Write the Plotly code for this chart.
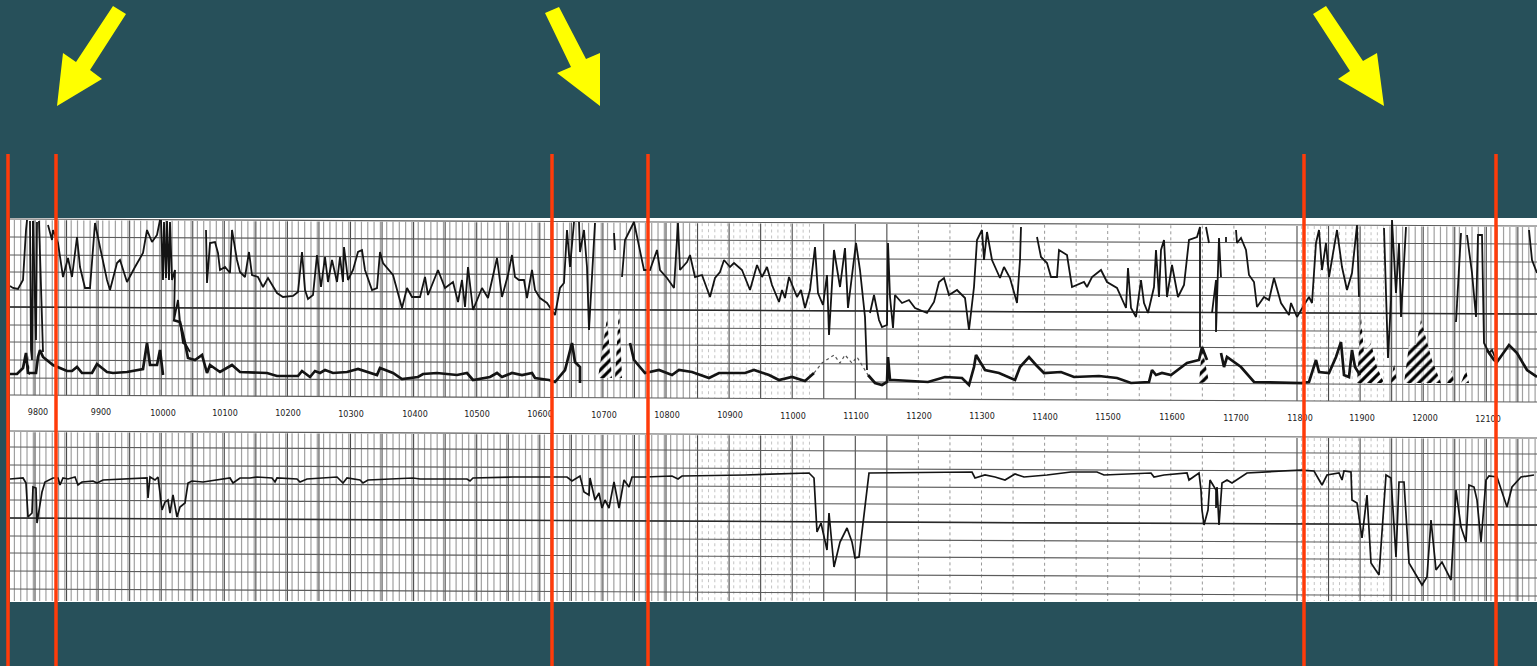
import plotly.graph_objects as go

TEAL = "#27505A"
RED = "#FF3B0A"
YELLOW = "#FFFF00"
INK = "#141414"
TILT = 7.0 / 1537

# ---- curve read-outs: position along the strip / height on the page (None = pen lifts)
deep_x = [10,13,18,23,26,27,None,30,31,32,33,None,33,35,36,37,None,39,41,43,None,
 48,52,53,58,63,68,72,77,80,85,90,95,100,107,110,117,120,127,135,143,147,152,157,160,None,
 161,163,164,166,167,169,170,172,172,175,174,178,180,183,186,190,None,
 206,207,210,215,218,220,225,230,232,237,240,245,249,252,258,263,268,277,283,293,298,302,305,308,313,317,321,325,328,332,337,340,343,344,348,353,358,362,365,372,377,380,383,393,402,407,412,420,425,428,438,445,453,458,462,465,468,473,482,488,497,502,508,
 512,515,519,524,527,532,535,540,547,555,560,564,567,570,574,None,
 579,580,584,587,589,592,595,None,614,615,None,
 622,625,634,640,644,650,657,660,667,674,678,680,687,690,695,702,710,715,720,724,730,734,742,750,757,762,767,772,779,782,785,789,797,801,805,810,815,818,823,827,829,834,840,845,848,856,860,865,867,None,
 870,874,879,882,887,888,890,893,895,902,909,915,927,934,939,944,949,957,965,969,974,977,982,984,987,992,1000,1004,1010,1017,1020,1021,None,
 1037,1041,1047,1051,1057,1059,1067,1072,1084,1087,1092,1101,1107,1117,1126,1128,1131,1136,1141,1144,1148,1154,1156,1159,1161,1164,1167,1172,1178,1184,1189,1197,1200,1200,None,
 1206,1209,None,1212,1216,1216,1219,1221,None,1226,1226,None,
 1236,1237,1241,1246,1249,1254,1257,1264,1269,1274,1281,1289,1291,1297,1304,1309,1312,1316,1319,1322,1326,1329,1337,1342,1347,1352,1357,1359,None,
 1384,1386,1388,1391,1392,1396,1399,1401,1406,None,1456,1461,None,
 1467,1472,1476,1478,1482,1484,1489,1492,1496,None,1529,1532,1537]
deep_y = [286,288,289,280,230,220,None,221,350,360,221,None,221,320,340,222,None,221,280,352,None,
 225,240,230,243,277,258,277,237,267,288,288,223,247,280,290,263,260,282,267,253,230,242,235,220,None,
 220,280,222,278,221,280,222,278,280,270,320,300,322,343,345,352,None,
 230,283,243,242,253,270,267,273,230,260,272,277,252,275,277,287,278,293,297,296,292,252,290,299,295,255,287,257,282,260,282,257,282,247,280,270,252,250,270,290,288,252,263,275,308,288,297,297,277,295,270,288,282,302,280,307,267,310,288,298,258,297,275,
 255,277,280,280,298,270,290,298,303,315,288,283,230,267,222,None,
 222,252,230,267,330,277,223,None,233,250,None,
 277,240,222,253,270,270,250,270,278,288,223,270,262,255,277,275,297,278,272,260,267,263,270,290,265,277,267,285,302,290,298,277,297,290,308,290,247,293,305,275,335,250,287,248,308,243,270,317,370,None,
 313,295,320,327,325,243,297,328,295,303,300,308,313,302,282,278,295,290,298,330,287,240,230,260,232,260,278,267,278,303,260,227,None,
 237,257,263,277,277,250,255,287,282,287,277,270,282,288,308,268,308,317,280,303,313,287,250,297,250,240,297,265,297,285,240,237,227,347,None,
 227,243,None,313,280,332,238,277,None,237,242,None,
 230,243,238,250,275,282,307,297,300,278,303,315,303,317,305,297,303,243,230,270,243,277,230,267,290,273,225,297,None,
 228,293,358,300,220,293,243,317,227,None,322,233,None,
 235,273,317,235,235,343,353,350,360,None,230,260,273]

shallow_x = [10,17,23,26,28,32,36,38,40,43,53,60,67,72,77,82,92,97,107,113,127,143,147,150,157,160,163,None,
 173,180,185,188,195,202,207,210,220,232,240,267,277,298,302,310,315,320,325,333,347,358,377,380,393,402,418,423,437,457,467,473,490,497,502,
 512,522,532,535,549,555,565,572,575,580,580,None,
 630,634,645,659,672,679,692,709,719,745,754,769,779,792,805,814,None,
 868,875,882,887,888,890,894,928,945,962,969,974,976,985,999,1015,1020,
 1024,1029,1036,1044,1061,1074,1099,1117,1131,1149,1152,1156,1162,1171,1187,1199,1202,1207,None,
 1221,1224,1227,1241,1254,1301,1309,1316,1319,1329,1336,1341,1344,1349,1352,1355,1360,None,
 1487,1494,1497,1509,1517,1527,1537]
shallow_y = [374,374,368,353,373,373,373,357,350,357,365,368,371,371,367,373,373,364,372,373,372,369,343,365,365,350,375,None,
 320,322,343,358,360,355,373,365,372,365,372,373,376,376,371,377,371,373,370,373,372,369,375,368,373,379,377,374,373,375,373,380,377,373,377,
 373,375,373,378,380,382,370,343,362,367,383,None,
 343,360,373,370,375,370,372,378,373,373,370,375,380,377,381,373,None,
 375,383,385,382,357,380,380,382,377,378,385,367,355,370,373,380,367,
 363,357,365,373,372,377,376,378,383,382,370,375,373,375,363,360,347,360,None,
 353,367,357,367,382,383,382,360,372,373,357,342,375,377,350,367,375,None,
 350,360,362,345,353,370,377]

dotted_x = [814,822,834,840,845,852,857,865,868]
dotted_y = [373,363,355,363,355,363,357,370,375]

lower_x = [10,23,26,28,32,33,36,37,42,45,53,58,60,63,68,75,78,82,93,97,103,143,147,148,150,155,158,160,162,165,168,170,173,177,180,185,188,192,203,230,233,240,250,257,272,275,277,297,300,307,337,343,347,360,363,368,413,420,467,470,473,
 512,567,572,580,584,589,590,595,599,602,605,609,614,619,624,629,632,645,672,678,682,745,809,814,817,821,827,829,834,840,847,852,855,859,869,972,975,985,995,1005,1015,
 1024,1047,1071,1097,1104,1151,1154,1164,1187,1189,1199,1201,1202,1204,1208,1210,1216,1216,1217,1219,1222,1227,1232,1247,1301,1314,1322,1327,1339,1342,1344,1351,1352,1357,1362,1367,1371,1379,1386,1391,1396,1399,1404,1409,1422,1427,1431,1436,1442,1451,1456,1461,1466,1469,1474,1477,1481,1486,1489,1497,1507,1512,1521,1534]
lower_y = [479,478,483,517,513,487,488,523,492,482,478,478,485,478,479,477,485,482,481,483,480,478,478,498,477,480,477,493,510,502,500,513,495,517,507,503,483,481,482,478,483,478,478,477,478,482,478,479,482,479,477,483,478,480,483,480,478,479,479,481,478,
 477,477,481,476,492,495,478,500,493,508,500,508,482,508,480,487,477,477,476,479,476,475,473,478,532,523,550,513,567,542,528,542,558,557,473,472,478,475,477,480,474,
 477,475,472,472,475,473,477,475,473,480,473,490,510,525,510,480,490,508,487,525,483,480,483,473,470,471,485,475,473,480,471,472,500,503,538,495,563,575,475,478,557,482,482,563,585,577,520,570,562,580,490,527,542,485,487,500,542,480,476,477,507,487,477,475]

hatch_x = [27,28,30,None,598,607,612,None,615,619,622,None,1199,1202,1209,None,1357,1361,1364,1371,1377,1384,None,1391,1394,1397,None,1404,1409,1416,1421,1432,1441,None,1447,1452,1454,None,1461,1466,1469]
hatch_y = [375,355,375,None,378,318,378,None,378,307,378,None,383,347,382,None,383,317,353,343,367,383,None,383,363,383,None,383,345,345,320,360,383,None,383,370,383,None,383,370,383]

depth_labels = ["9800","9900","10000","10100","10200","10300","10400","10500","10600","10700","10800","10900","11000","11100","11200","11300","11400","11500","11600","11700","11800","11900","12000","12100"]
label_x = [38,101,163,225,288,351,415,477,540,604,667,730,793,856,919,982,1045,1108,1172,1236,1300,1362,1425,1488]

marker_x = [8,56,552,648,1304,1496]
marker_top = 154
arrow_xs = [[113,126,90,102,57,63,76,113],[545,559,586,600,600,557,571,545],[1313,1326,1363,1377,1384,1338,1350,1313]]
arrow_ys = [[6,14,70,79,106,53,62,6],[13,7,59,53,106,73,67,13],[14,6,61,53,106,79,71,14]]

# ---- horizontal rulings at the left edge of the strip
top_rules = [219,237,255,272,290,307,325,342,360,378,395]
bot_rules = [431,447,465,483,500,518,536,553,571,589]
heavy_rules = [307,518]
PAPER_L, PAPER_R = 10, 1537

def seg_h(rules):
    xs, ys = [], []
    for r in rules:
        xs += [PAPER_L, PAPER_R, None]
        ys += [r + TILT * PAPER_L, r + TILT * PAPER_R, None]
    return xs, ys

def seg_v(positions):
    xs, ys = [], []
    for p in positions:
        xs += [p, p, None, p, p, None]
        ys += [220 + TILT * p, 395 + TILT * p, None, 432 + TILT * p, 601, None]
    return xs, ys

STEP = 6.31
MAJOR = 31.55
fine_all = [14.4 + i * STEP for i in range(0, 242)]
major_all = [35 + i * MAJOR for i in range(0, 48)]
is_major = lambda p: any(abs(p - m) < 1 for m in major_all)
fine_solid = [p for p in fine_all if (p < 690 or p > 1385) and not is_major(p)]
fine_dot = [p for p in fine_all if (690 <= p < 815 or 1300 < p <= 1385) and not is_major(p)]
major_solid = [p for p in major_all if p < 890 or p > 1290]
major_dot = [p for p in major_all if 890 <= p <= 1290]

fig = go.Figure()

def add_line(x, y, color, width, dash="solid", name=""):
    fig.add_trace(go.Scatter(x=x, y=y, mode="lines", name=name, hoverinfo="skip",
                             line=dict(color=color, width=width, dash=dash), connectgaps=False))

vx, vy = seg_v(fine_solid); add_line(vx, vy, "#a0a0a0", 1.2, name="fine")
vx, vy = seg_v(fine_dot); add_line(vx, vy, "#c4c4c4", 1.0, "dot", name="fine dotted")
vx, vy = seg_v(major_dot); add_line(vx, vy, "#999999", 1.0, "dot", name="major dotted")
vx, vy = seg_v(major_solid); add_line(vx, vy, "#4a4a4a", 1.1, name="major")
hx, hy = seg_h(top_rules + bot_rules); add_line(hx, hy, "#5c5c5c", 1.1, name="rules")
hx, hy = seg_h(heavy_rules); add_line(hx, hy, "#2a2a2a", 1.5, name="heavy rules")

fig.add_trace(go.Scatter(x=hatch_x, y=hatch_y, mode="none", fill="toself", hoverinfo="skip", name="hatch",
                         fillcolor="rgba(0,0,0,0)",
                         fillpattern=dict(shape="/", fgcolor="#000000", fgopacity=1, bgcolor="rgba(255,255,255,0.7)", size=7, solidity=0.45)))
add_line(deep_x, deep_y, INK, 1.8, name="deep")
add_line(shallow_x, shallow_y, INK, 2.7, name="shallow")
add_line(dotted_x, dotted_y, "#555555", 1.2, "dot", name="shallow dotted")
add_line(lower_x, lower_y, INK, 1.7, name="lower")

fig.add_trace(go.Scatter(x=label_x, y=[413 + TILT * v for v in label_x], mode="text", text=depth_labels,
                         textposition="middle center", hoverinfo="skip", name="depth",
                         textfont=dict(family="DejaVu Sans", size=8, color="#222222")))

for ax, ay in zip(arrow_xs, arrow_ys):
    fig.add_trace(go.Scatter(x=ax, y=ay, mode="none", fill="toself", fillcolor=YELLOW, hoverinfo="skip", name="arrow"))

shapes = [dict(type="rect", layer="below", xref="x", yref="y", x0=PAPER_L, x1=PAPER_R, y0=218, y1=602,
               fillcolor="white", line=dict(width=0))]
for m in marker_x:
    shapes.append(dict(type="line", xref="x", yref="y", x0=m, x1=m, y0=marker_top, y1=666,
                       line=dict(color=RED, width=3.5)))

fig.update_layout(width=1537, height=666, margin=dict(l=0, r=0, t=0, b=0), autosize=False,
                  paper_bgcolor=TEAL, plot_bgcolor=TEAL, showlegend=False, shapes=shapes,
                  xaxis=dict(range=[0, 1537], visible=False, fixedrange=True),
                  yaxis=dict(range=[666, 0], visible=False, fixedrange=True))

fig.write_html("out.html", config={"displayModeBar": False},
               post_script="document.body.style.margin='0';document.body.style.overflow='hidden';")
